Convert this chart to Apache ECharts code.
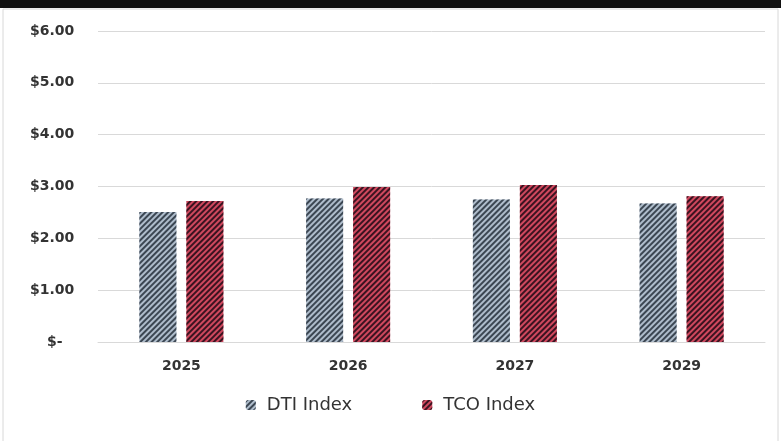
<!DOCTYPE html>
<html><head><meta charset="utf-8">
<script src="https://cdn.jsdelivr.net/npm/echarts@6/dist/echarts.min.js"></script>
<style>html,body{margin:0;padding:0;background:#fff}#c{width:781px;height:441px}</style>
</head><body><div id="c"></div>
<script>
const categories = ['2025', '2026', '2027', '2029'];
const dtiIndex = [2.51, 2.77, 2.75, 2.67];
const tcoIndex = [2.72, 2.99, 3.03, 2.81];
const yTicks = [0, 1, 2, 3, 4, 5, 6];

const chart = echarts.init(document.getElementById('c'));
const font = '"DejaVu Sans", sans-serif';
function decal(c) {
  return { symbol: 'rect', color: c, dashArrayX: [1, 0], dashArrayY: [1.6, 1.8], rotation: -Math.PI / 4, symbolSize: 1 };
}
chart.setOption({
  animation: false,
  backgroundColor: '#fff',
  graphic: [
    { type: 'rect', shape: { x: 0, y: 0, width: 781, height: 8 }, style: { fill: '#111' } },
    { type: 'rect', shape: { x: 3, y: 9, width: 775, height: 440 }, style: { fill: 'none', stroke: '#d8d8d8', lineWidth: 1 } }
  ],
  grid: { left: 98, right: 16, top: 31, bottom: 99 },
  legend: {
    bottom: 22, left: 'center', itemWidth: 10, itemHeight: 10, itemGap: 70,
    textStyle: { fontFamily: font, fontSize: 18, color: '#333', padding: [0, 0, 0, 6] },
    data: ['DTI Index', 'TCO Index']
  },
  xAxis: {
    type: 'category', data: categories,
    axisLine: { show: true, lineStyle: { color: '#d9d9d9' } }, axisTick: { show: false },
    axisLabel: { fontFamily: font, fontSize: 14, fontWeight: 'bold', color: '#333', margin: 17 }
  },
  yAxis: {
    type: 'value', min: 0, max: 6, interval: 1,
    axisLine: { show: false }, axisTick: { show: false },
    splitLine: { lineStyle: { color: '#d9d9d9' } },
    axisLabel: {
      fontFamily: font, fontSize: 14, fontWeight: 'bold', color: '#333', align: 'left', margin: 68,
      formatter: v => v === 0 ? '{z|$-}' : '$' + v.toFixed(2),
      rich: { z: { fontFamily: font, fontSize: 14, fontWeight: 'bold', color: '#333', padding: [0, 0, 0, 17] } }
    }
  },
  series: [
    { name: 'DTI Index', type: 'bar', data: dtiIndex, barWidth: 37, barGap: '27%',
      itemStyle: { color: '#aebccb', decal: decal('#3b4652') } },
    { name: 'TCO Index', type: 'bar', data: tcoIndex, barWidth: 37,
      itemStyle: { color: '#d0485e', decal: decal('#3a1320') } }
  ]
});
</script></body></html>
